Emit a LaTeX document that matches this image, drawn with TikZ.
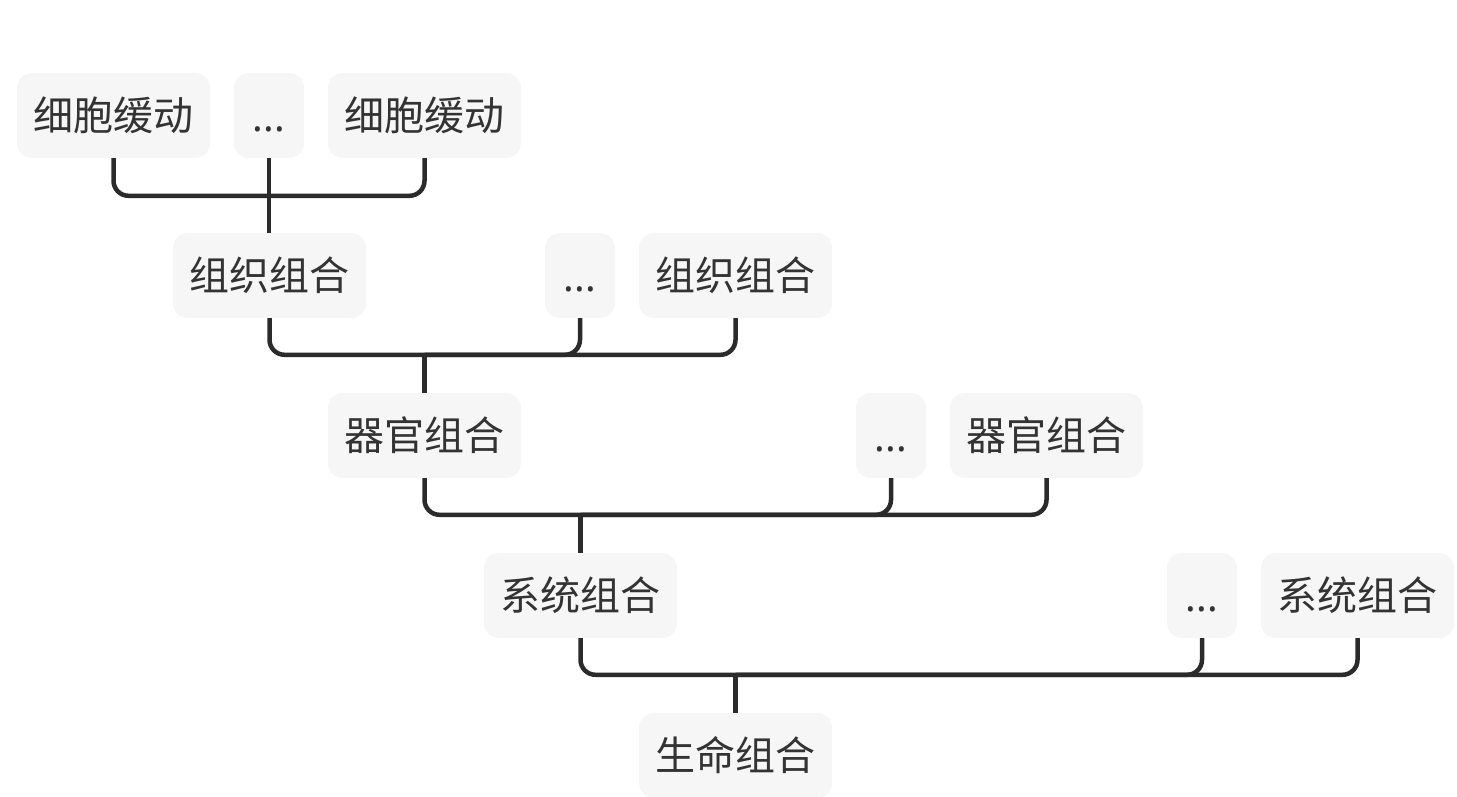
\documentclass[tikz,border=0pt]{standalone}
\usepackage{fontspec}
\newfontfamily\cjk{Noto Sans CJK SC}
\newfontfamily\latinf{Noto Sans}
\usetikzlibrary{calc}
\definecolor{boxfill}{HTML}{F6F6F6}
\definecolor{linecol}{HTML}{2B2B2B}
\definecolor{textcol}{HTML}{333333}
\newcommand{\dotstext}{\vphantom{组}{\latinf ...}}
\tikzset{
  box/.style={rectangle, rounded corners=15pt, fill=boxfill, draw=none,
    minimum height=85pt, inner sep=0pt, text=textcol,
    font=\cjk\fontsize{40}{40}\selectfont},
  wbox/.style={box, minimum width=193pt},
  dbox/.style={box, minimum width=70pt},
  conn/.style={draw=linecol, line width=4.5pt, rounded corners=15pt, line cap=butt}
}
\begin{document}
\begin{tikzpicture}[x=1pt,y=-1pt]
\useasboundingbox (0,0) rectangle (1457,797);
% row 1
\node[wbox] (A1) at (113.5,115.5) {细胞缓动};
\node[dbox] (Ad) at (269,115.5) {\dotstext};
\node[wbox] (A2) at (424.5,115.5) {细胞缓动};
% row 2
\node[wbox] (B1) at (269.5,275.5) {组织组合};
\node[dbox] (Bd) at (580,275.5) {\dotstext};
\node[wbox] (B2) at (735.5,275.5) {组织组合};
% row 3
\node[wbox] (C1) at (424.5,435.5) {器官组合};
\node[dbox] (Cd) at (891,435.5) {\dotstext};
\node[wbox] (C2) at (1046.5,435.5) {器官组合};
% row 4
\node[wbox] (D1) at (580.5,595.5) {系统组合};
\node[dbox] (Dd) at (1202,595.5) {\dotstext};
\node[wbox] (D2) at (1357.5,595.5) {系统组合};
% row 5
\node[wbox] (E) at (735.5,755.5) {生命组合};
% junctions
\coordinate (j1) at ($(B1.north)+(0,-37)$);
\coordinate (j2) at ($(C1.north)+(0,-38)$);
\coordinate (j3) at ($(D1.north)+(0,-38)$);
\coordinate (j4) at ($(E.north)+(0,-38)$);
% connectors row 1 -> 2
\draw[conn] (A1.south) |- (j1) -| (A2.south);
\draw[conn] (Ad.south) -- (Ad.south |- B1.north);
% row 2 -> 3
\draw[conn] (B1.south) |- (j2) -| (B2.south);
\draw[conn] (Bd.south) |- (j2);
\draw[conn] (j2) -- (C1.north);
% row 3 -> 4
\draw[conn] (C1.south) |- (j3) -| (C2.south);
\draw[conn] (Cd.south) |- (j3);
\draw[conn] (j3) -- (D1.north);
% row 4 -> 5
\draw[conn] (D1.south) |- (j4) -| (D2.south);
\draw[conn] (Dd.south) |- (j4);
\draw[conn] (j4) -- (E.north);
\end{tikzpicture}
\end{document}
